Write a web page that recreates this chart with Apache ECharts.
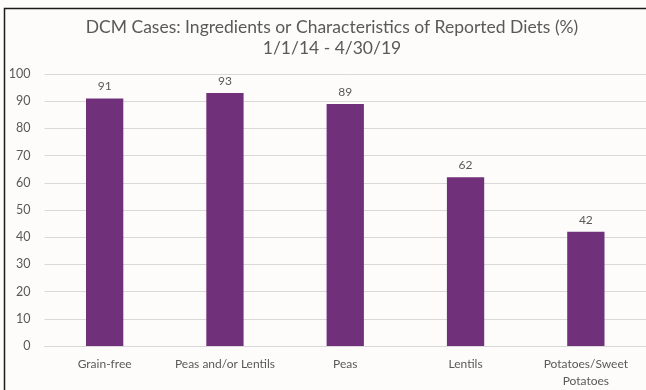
<!DOCTYPE html>
<html>
<head>
<meta charset="utf-8">
<script src="https://cdn.jsdelivr.net/npm/echarts@6/dist/echarts.min.js"></script>
<style>
  html, body { margin: 0; padding: 0; background: #fdfcfb; }
  #chart { width: 646px; height: 390px; }
</style>
</head>
<body>
<div id="chart"></div>
<script>
// Diet ingredients reported in DCM cases, percent of cases
const categories = ['Grain-free', 'Peas and/or Lentils', 'Peas', 'Lentils', 'Potatoes/Sweet\nPotatoes'];
const percentValues = [91, 93, 89, 62, 42];
const yTicks = { min: 0, max: 100, interval: 10 };

const textColor = '#595959';
const fontFamily = 'Lato, "Open Sans", sans-serif';

const chart = echarts.init(document.getElementById('chart'));
chart.setOption({
  backgroundColor: '#fdfcfb',
  animation: false,
  title: {
    text: 'DCM Cases: Ingredients or Characteristics of Reported Diets (%)\n1/1/14 - 4/30/19',
    left: 327,
    textAlign: 'center',
    top: 12,
    textStyle: {
      color: textColor,
      fontFamily: fontFamily,
      fontWeight: 'normal',
      fontSize: 17.5,
      lineHeight: 21
    }
  },
  graphic: [{
    type: 'rect',
    shape: { x: 4.5, y: 8.5, width: 700, height: 500 },
    style: { fill: 'none', stroke: '#1a1a1a', lineWidth: 1.5 },
    silent: true
  }],
  grid: { left: 44.5, top: 74, width: 605, height: 277 },
  xAxis: {
    type: 'category',
    data: categories,
    axisLine: { show: true, lineStyle: { color: '#d9d9d9', width: 1 } },
    axisTick: { show: false },
    axisLabel: {
      color: textColor,
      fontFamily: fontFamily,
      fontSize: 12,
      lineHeight: 17,
      margin: 10,
      interval: 0
    }
  },
  yAxis: {
    type: 'value',
    min: yTicks.min,
    max: yTicks.max,
    interval: yTicks.interval,
    axisLine: { show: false },
    axisTick: { show: false },
    splitLine: { lineStyle: { color: '#d9d9d9', width: 1 } },
    axisLabel: {
      color: textColor,
      fontFamily: fontFamily,
      fontSize: 12.5,
      margin: 14
    }
  },
  series: [{
    type: 'bar',
    data: percentValues,
    barWidth: '31%',
    itemStyle: { color: '#70307a' },
    label: {
      show: true,
      position: 'top',
      distance: 6,
      color: textColor,
      fontFamily: fontFamily,
      fontSize: 12
    }
  }]
});
</script>
</body>
</html>
